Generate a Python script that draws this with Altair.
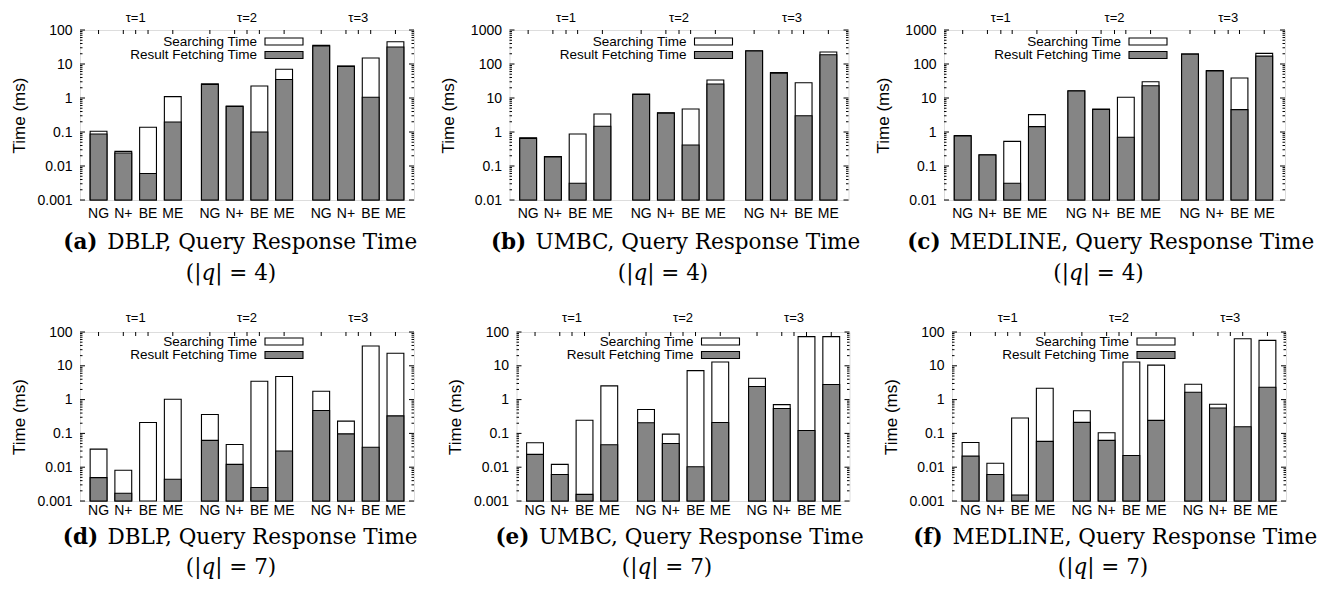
import math
import altair as alt
import pandas as pd

# ---------------- data ----------------
methods = ["NG", "N+", "BE", "ME"]
taus = ["τ=1", "τ=2", "τ=3"]
legend_labels = ["Searching Time", "Result Fetching Time"]
y_title = "Time (ms)"

letters = ["(a)", "(b)", "(c)", "(d)", "(e)", "(f)"]
names = ["DBLP, Query Response Time", "UMBC, Query Response Time", "MEDLINE, Query Response Time",
         "DBLP, Query Response Time", "UMBC, Query Response Time", "MEDLINE, Query Response Time"]
q_sizes = ["4", "4", "4", "7", "7", "7"]
y_domains = [[0.001, 100], [0.01, 1000], [0.01, 1000], [0.001, 100], [0.001, 100], [0.001, 100]]

# order: tau1 NG N+ BE ME, tau2 NG N+ BE ME, tau3 NG N+ BE ME
total_a = [0.105, 0.027, 0.138, 1.1, 2.6, 0.58, 2.25, 7.0, 35.4, 8.7, 15.0, 45.0]
fetch_a = [0.087, 0.024, 0.006, 0.197, 2.5, 0.56, 0.1, 3.5, 34.0, 8.5, 1.05, 31.6]
total_b = [0.67, 0.19, 0.87, 3.4, 13.1, 3.7, 4.75, 33.9, 246, 55.6, 28.2, 225]
fetch_b = [0.65, 0.185, 0.031, 1.47, 12.7, 3.6, 0.415, 25.9, 240, 54, 3.0, 188]
total_c = [0.78, 0.215, 0.53, 3.24, 16.4, 4.75, 10.5, 30.2, 197, 63.7, 38.7, 205]
fetch_c = [0.76, 0.21, 0.031, 1.44, 16.0, 4.6, 0.70, 23.0, 195, 62, 4.54, 170]
total_d = [0.0343, 0.0081, 0.21, 1.02, 0.363, 0.047, 3.49, 4.8, 1.77, 0.23, 38.6, 23.4]
fetch_d = [0.0049, 0.0017, None, 0.0044, 0.062, 0.0121, 0.0025, 0.030, 0.475, 0.097, 0.039, 0.33]
total_e = [0.0527, 0.0121, 0.245, 2.55, 0.51, 0.095, 7.2, 13.0, 4.28, 0.71, 72.8, 72.8]
fetch_e = [0.0239, 0.0061, 0.00157, 0.046, 0.206, 0.050, 0.0103, 0.21, 2.43, 0.545, 0.122, 2.79]
total_f = [0.054, 0.0131, 0.285, 2.17, 0.47, 0.105, 12.9, 10.5, 2.85, 0.73, 63.4, 56.5]
fetch_f = [0.0212, 0.0061, 0.0015, 0.058, 0.212, 0.062, 0.0222, 0.243, 1.65, 0.565, 0.158, 2.32]

totals = [total_a, total_b, total_c, total_d, total_e, total_f]
fetches = [fetch_a, fetch_b, fetch_c, fetch_d, fetch_e, fetch_f]

# ---------------- style ----------------
HATCH = "#858585"
SANS = "Liberation Sans"
SERIF = "DejaVu Serif"
CAP_FS = 21.5
LEG_FS = 13.5

# approximate DejaVu Serif advance widths (em) used to lay out the mixed-style captions
_W = {" ": .318, "(": .390, ")": .390, ",": .318, "|": .337, "=": .838, "4": .636, "7": .636,
      "A": .722, "B": .735, "C": .733, "D": .803, "E": .732, "I": .402, "L": .689, "M": .982,
      "N": .850, "P": .693, "Q": .803, "R": .757, "T": .685, "U": .838, "e": .592, "i": .319,
      "m": .949, "n": .643, "o": .602, "p": .641, "r": .478, "s": .514, "u": .643, "y": .571,
      "q": .641}
_WB = {"(": .457, ")": .457, "a": .678, "b": .716, "c": .599, "d": .716, "e": .666, "f": .460}


def tw(s, table):
    return sum(table.get(ch, .6) for ch in s) * CAP_FS


def panel(i, width, height, tau_off, lab_off, leg_y, cap1, cap2, anchor=False):
    lo, hi = y_domains[i]
    df = pd.DataFrame({
        "tau": [t for t in taus for _ in methods],
        "method": methods * len(taus),
        "total": totals[i],
        "fetch": [float("nan") if v is None else v for v in fetches[i]],
    })
    tau_df = pd.DataFrame({"tau": taus})
    k0, k1 = round(math.log10(lo)), round(math.log10(hi))
    decades = [10.0 ** k for k in range(k0, k1 + 1)]
    minors = [m * 10.0 ** k for k in range(k0, k1) for m in range(2, 10)]
    maj_df = pd.DataFrame({"v": decades})
    min_df = pd.DataFrame({"v": minors})

    yscale = alt.Scale(type="log", domain=[lo, hi], nice=False)
    yaxis = alt.Axis(values=decades, format="~g", ticks=False, tickSize=0, domain=False,
                     grid=False, labelPadding=8, labelFontSize=14, labelFont=SANS,
                     labelColor="black", title=y_title, titleX=-61, titleY=height / 2,
                     titleFontSize=17, titleFontWeight="normal", titleFont=SANS,
                     titleAngle=270, titleBaseline="middle", titleAlign="center",
                     titleColor="black")
    xenc = alt.X("tau:N", scale=alt.Scale(domain=taus, paddingInner=0.111, paddingOuter=0.0556),
                 axis=None)
    xoenc = alt.XOffset("method:N", scale=alt.Scale(domain=methods, paddingInner=0.32,
                                                    paddingOuter=0.16))

    base = alt.Chart(df)
    outer = base.mark_bar(fill="white", stroke="black", strokeWidth=1.1).encode(
        x=xenc, xOffset=xoenc,
        y=alt.Y("total:Q", scale=yscale, axis=yaxis), y2=alt.datum(lo))
    inner = base.transform_filter("isValid(datum.fetch)").mark_bar(
        fill=HATCH, stroke="black", strokeWidth=1.1).encode(
        x=xenc, xOffset=xoenc,
        y=alt.Y("fetch:Q", scale=yscale, axis=yaxis), y2=alt.datum(lo))
    xlabels = base.mark_text(fontSize=14, font=SANS, baseline="middle", color="black").encode(
        x=xenc, xOffset=xoenc, y=alt.value(height + lab_off), text="method:N")
    top_ticks = base.mark_rule(color="black", strokeWidth=1).encode(
        x=xenc, xOffset=xoenc, y=alt.value(0), y2=alt.value(4))
    tau_ticks = alt.Chart(tau_df).mark_rule(color="black", strokeWidth=1).encode(
        x=xenc, y=alt.value(0), y2=alt.value(4))
    tau_text = alt.Chart(tau_df).mark_text(fontSize=13, font=SANS, baseline="middle",
                                           color="black").encode(
        x=xenc, y=alt.value(-tau_off), text="tau:N")

    ymaj = alt.Y("v:Q", scale=yscale, axis=yaxis)
    lmaj = alt.Chart(maj_df).mark_rule(color="black").encode(
        y=ymaj, x=alt.value(0), x2=alt.value(5))
    rmaj = alt.Chart(maj_df).mark_rule(color="black").encode(
        y=ymaj, x=alt.value(width - 5), x2=alt.value(width))
    lmin = alt.Chart(min_df).mark_rule(color="black").encode(
        y=ymaj, x=alt.value(0), x2=alt.value(2.5))
    rmin = alt.Chart(min_df).mark_rule(color="black").encode(
        y=ymaj, x=alt.value(width - 2.5), x2=alt.value(width))

    leg_df = pd.DataFrame({"label": legend_labels})
    leg_layers = []
    fills = ["white", HATCH]
    for k in range(2):
        src = alt.Chart(leg_df).transform_filter(alt.datum.label == legend_labels[k])
        leg_layers.append(src.mark_text(align="right", baseline="middle", fontSize=LEG_FS,
                                        font=SANS, color="black").encode(
            x=alt.value(177), y=alt.value(leg_y[k]), text="label:N"))
        leg_layers.append(src.mark_rect(fill=fills[k], stroke="black", strokeWidth=1.1).encode(
            x=alt.value(185), x2=alt.value(223),
            y=alt.value(leg_y[k] - 3.5), y2=alt.value(leg_y[k] + 3.5)))

    # caption: bold letter + roman name, centred a little left of the plot centre
    cap_df = pd.DataFrame({"letter": [letters[i]], "name": [names[i]],
                           "q1": ["(|"], "q2": ["q"], "q3": ["| = " + q_sizes[i] + ")"]})
    capc = alt.Chart(cap_df)
    w_letter = tw(letters[i], _WB)
    gap = 0.45 * CAP_FS
    w_line = w_letter + gap + tw(names[i], _W)
    x0 = width / 2 - 4 - w_line / 2
    tstyle = dict(baseline="middle", font=SERIF, fontSize=CAP_FS, color="black")
    cap_letter = capc.mark_text(align="left", fontWeight="bold", **tstyle).encode(
        x=alt.value(x0), y=alt.value(height + cap1), text="letter:N")
    cap_name = capc.mark_text(align="left", **tstyle).encode(
        x=alt.value(x0 + w_letter + gap), y=alt.value(height + cap1), text="name:N")
    w1, w2, w3 = tw("(|", _W), tw("q", _W), tw("| = 4)", _W)
    qx0 = width / 2 - 16 - (w1 + w2 + w3) / 2
    cap_q1 = capc.mark_text(align="left", **tstyle).encode(
        x=alt.value(qx0), y=alt.value(height + cap2), text="q1:N")
    cap_q2 = capc.mark_text(align="left", fontStyle="italic", **tstyle).encode(
        x=alt.value(qx0 + w1), y=alt.value(height + cap2), text="q2:N")
    cap_q3 = capc.mark_text(align="left", **tstyle).encode(
        x=alt.value(qx0 + w1 + w2), y=alt.value(height + cap2), text="q3:N")

    layers = [outer, inner, top_ticks, tau_ticks, lmaj, rmaj, lmin, rmin,
              xlabels, tau_text, *leg_layers, cap_letter, cap_name, cap_q1, cap_q2, cap_q3]
    if anchor:
        # invisible page-corner anchor so the plot area sits at the reference offset
        layers.append(capc.mark_rect(opacity=0).encode(
            x=alt.value(-79), x2=alt.value(-78), y=alt.value(-29), y2=alt.value(-28)))
    return alt.layer(*layers).properties(width=width, height=height)


row1 = alt.hconcat(
    panel(0, 334, 170, 12, 14, [11.5, 25], 43, 74, anchor=True),
    panel(1, 339, 170, 12, 14, [11.5, 25], 43, 74),
    panel(2, 341, 170, 12, 14, [11.5, 25], 43, 74),
    spacing=95.5, bounds="flush")
row2 = alt.hconcat(
    panel(3, 334, 169, 14, 10, [9.5, 23], 37, 67),
    panel(4, 333, 169, 14, 10, [9.5, 23], 37, 67),
    panel(5, 334, 169, 14, 10, [9.5, 23], 37, 67),
    spacing=102.5, bounds="flush")

# nested rows have no flush height of their own, so the spacing runs top to top
chart = alt.vconcat(row1, row2, spacing=302, bounds="flush").properties(
    padding=0,
    background="white",
).configure_view(stroke="black", strokeWidth=1.2).configure(font=SANS)

chart.save("out.html", embed_options={"renderer": "svg", "actions": False})
